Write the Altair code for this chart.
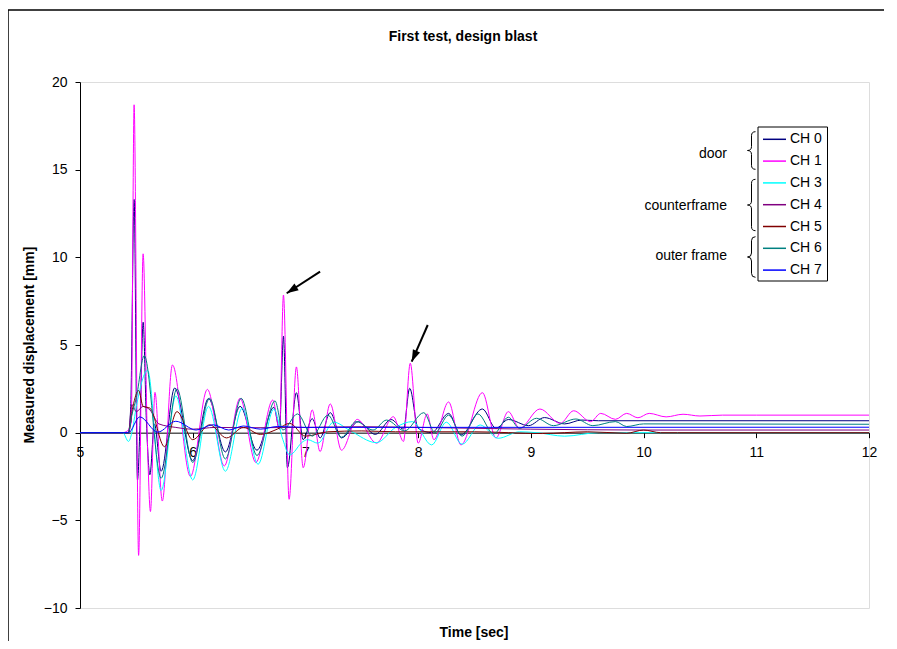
import altair as alt
import pandas as pd

# ---------------- data ----------------
names = ["CH 0", "CH 1", "CH 3", "CH 4", "CH 5", "CH 6", "CH 7"]
colors = ["#000080", "#FF00FF", "#00FFFF", "#800080", "#800000", "#008080", "#0000FF"]

ch0_t = [5.0, 5.43, 5.45, 5.48, 5.51, 5.535, 5.56, 5.59, 5.62, 5.66, 5.72, 5.84, 6.0, 6.14, 6.29, 6.42,
         6.57, 6.72, 6.77, 6.805, 6.84, 6.92, 6.98, 7.06, 7.13, 7.22, 7.32, 7.47, 7.62, 7.76, 7.87, 7.925,
         8.0, 8.12, 8.27, 8.38, 8.57, 8.69, 8.8, 8.98, 9.12, 9.3, 9.45, 9.6, 12.0]
ch0_v = [0, 0, 1.5, 13.3, -2.7, 1.0, 6.3, 0.5, -2.4, 0.5, -2.2, 2.55, -1.6, 1.95, -1.1, 1.5,
         -1.0, 1.45, 0.2, 5.5, -2.0, 2.28, -0.4, 0.8, -0.3, 1.14, -0.3, 0.63, -0.1, 0.75, 0.2, 2.53,
         0.25, 0.0, 1.1, -0.13, 1.35, 0.25, 0.75, 0.4, 0.86, 0.5, 0.72, 0.68, 0.68]

ch1_t = [5.0, 5.38, 5.42, 5.455, 5.48, 5.52, 5.56, 5.6, 5.625, 5.665, 5.73, 5.82, 5.98, 6.13, 6.28,
         6.42, 6.56, 6.71, 6.77, 6.805, 6.855, 6.92, 6.98, 7.06, 7.13, 7.22, 7.32, 7.46, 7.63, 7.78,
         7.87, 7.93, 8.0, 8.08, 8.14, 8.27, 8.38, 8.57, 8.69, 8.80, 8.90, 9.08, 9.26, 9.38, 9.53, 9.62,
         9.75, 9.85, 9.95, 10.05, 10.2, 10.35, 10.5, 10.7, 11.0, 12.0]
ch1_v = [0, 0, 0.1, 0.6, 18.7, -7.0, 10.2, -1.0, -4.5, 2.3, -3.9, 3.86, -2.5, 2.47, -1.9,
         1.96, -1.7, 1.86, 0.2, 7.85, -3.8, 3.75, -2.0, 1.3, -1.08, 1.64, -1.0, 0.76, -0.6, 0.91,
         -0.5, 3.96, -0.6, 1.07, -0.4, 1.75, -0.7, 2.28, -0.3, 1.2, 0.25, 1.35, 0.53, 1.25, 0.63, 1.1,
         0.76, 1.1, 0.85, 1.1, 0.9, 1.05, 0.95, 1.0, 1.0, 1.0]

ch3_t = [5.0, 5.38, 5.43, 5.46, 5.5, 5.6, 5.72, 5.85, 6.0, 6.14, 6.29, 6.44, 6.58, 6.72, 6.8, 6.86,
         6.98, 7.02, 7.11, 7.25, 7.4, 7.63, 7.8, 7.95, 8.12, 8.25, 8.39, 8.55, 8.71, 8.9, 9.05, 9.3,
         9.6, 12.0]
ch3_v = [0, 0, -0.5, 0.0, 1.5, 3.55, -3.3, 2.1, -2.7, 1.5, -2.2, 1.4, -1.8, 1.35, -0.4, -1.27,
         -0.5, -0.4, -0.6, 0.6, 0.1, -0.57, 0.3, 0.63, -0.7, 0.6, -0.66, 0.44, -0.32, 0.05, 0.0, -0.2,
         0.0, 0.0]

ch4_t = [5.0, 5.43, 5.46, 5.5, 5.56, 5.62, 5.7, 5.85, 6.0, 6.2, 6.5, 7.0, 7.5, 8.0, 9.0, 10.0, 12.0]
ch4_v = [0, 0, 1.6, 1.2, 1.5, 1.3, 0.5, 0.3, 0.2, 0.3, 0.28, 0.3, 0.34, 0.3, 0.2, 0.15, 0.15]

ch5_t = [5.0, 5.43, 5.47, 5.52, 5.56, 5.62, 5.75, 5.86, 6.0, 6.15, 6.3, 6.45, 6.6, 6.75, 6.86, 7.0,
         7.2, 7.5, 7.8, 8.5, 9.1, 9.5, 9.85, 10.0, 10.15, 10.3, 12.0]
ch5_v = [0, 0, 1.5, 2.4, 1.5, 1.4, -0.8, 1.2, -0.4, 0.45, -0.3, 0.3, -0.1, 0.2, 0.53, -0.2,
         0.05, 0.1, 0.05, 0.05, -0.05, 0.05, -0.03, 0.15, 0.0, 0.0, 0.0]

ch6_t = [5.0, 5.43, 5.46, 5.5, 5.57, 5.72, 5.86, 6.0, 6.15, 6.29, 6.43, 6.57, 6.73, 6.8, 6.93,
         7.06, 7.2, 7.32, 7.45, 7.6, 7.72, 7.88, 8.05, 8.15, 8.27, 8.39, 8.53, 8.67, 8.8, 8.9, 9.05,
         9.2, 9.4, 9.55, 9.75, 9.85, 10.0, 12.0]
ch6_v = [0, 0, 1.0, 2.0, 4.4, -2.6, 2.5, -1.7, 1.96, -1.5, 1.96, -1.3, 1.81, 0.15, 1.07,
         -0.2, 1.0, -0.26, 0.63, 0.15, 0.72, 0.1, 1.14, 0.0, 1.0, -0.2, 1.07, -0.07, 0.88, 0.25, 0.82,
         0.4, 0.78, 0.4, 0.63, 0.35, 0.5, 0.48]

ch7_t = [5.0, 5.43, 5.53, 5.69, 5.85, 6.03, 6.18, 6.32, 6.45, 6.6, 6.75, 7.0, 12.0]
ch7_v = [0, 0, 0.9, 0.03, 0.65, 0.15, 0.45, 0.15, 0.38, 0.2, 0.35, 0.3, 0.31]

# arrows (annotation, data coordinates)
arrow_tail_t = [7.13, 8.085]
arrow_tail_v = [9.18, 6.14]
arrow_head_t = [6.834, 7.943]
arrow_head_v = [7.95, 4.05]
arrow_angle = [237, 204]

group_labels = ["door", "counterframe", "outer frame"]
x_ticks = [5, 6, 7, 8, 9, 10, 11, 12]
y_ticks = [-10, -5, 0, 5, 10, 15, 20]

# ---------------- build tables ----------------
series_data = [(names[0], ch0_t, ch0_v), (names[1], ch1_t, ch1_v), (names[2], ch3_t, ch3_v),
               (names[3], ch4_t, ch4_v), (names[4], ch5_t, ch5_v), (names[5], ch6_t, ch6_v),
               (names[6], ch7_t, ch7_v)]
rows = []
for i, (nm, ts, vs) in enumerate(series_data):
    for t, v in zip(ts, vs):
        rows.append({"series": nm, "order": i, "t": t, "v": v})
df = pd.DataFrame(rows)

arrows = pd.DataFrame({"t": arrow_tail_t, "v": arrow_tail_v, "t2": arrow_head_t,
                       "v2": arrow_head_v, "angle": arrow_angle})

W, H = 789, 526
FONT = "Liberation Sans"
xs = alt.Scale(domain=[5, 12], nice=False, zero=False)
ys = alt.Scale(domain=[-10, 20], nice=False, zero=False)
zero_offset = -(H - H * 20 / 30)

lines = alt.Chart(df).mark_line(strokeWidth=1, interpolate="monotone", clip=True).encode(
    x=alt.X("t:Q", scale=xs,
            axis=alt.Axis(values=x_ticks, format="d", offset=zero_offset, title=None,
                          grid=False, domainColor="black", tickColor="black", tickSize=5,
                          labelFont=FONT, labelFontSize=14, labelColor="black", labelPadding=8,
                          labelFlush=False)),
    y=alt.Y("v:Q", scale=ys,
            axis=alt.Axis(values=y_ticks, format="d", title=None, grid=False,
                          domainColor="black", tickColor="black", tickSize=5,
                          labelFont=FONT, labelFontSize=14, labelColor="black", labelPadding=8)),
    color=alt.Color("series:N", scale=alt.Scale(domain=names, range=colors), legend=None),
    order=alt.Order("order:Q"),
)

arrow_lines = alt.Chart(arrows).mark_rule(color="black", strokeWidth=2).encode(
    x="t:Q", y="v:Q", x2="t2:Q", y2="v2:Q")

head_path = "M0,0 L0.6,1.8 L-0.6,1.8 Z"
arrow_heads = alt.Chart(arrows).mark_point(shape=head_path, filled=True, color="black",
                                            size=170, opacity=1).encode(
    x="t2:Q", y="v2:Q", angle=alt.Angle("angle:Q", scale=None))

one = pd.DataFrame({"a": [0]})

# ---- legend (manual, with braces) ----
leg_df = pd.DataFrame({"series": names, "ly": [57.3 + 21.8 * i for i in range(7)]})
leg_box = alt.Chart(one).mark_rect(fill="white", stroke="black", strokeWidth=1).encode(
    x=alt.value(678), x2=alt.value(747.5), y=alt.value(45), y2=alt.value(199))
leg_lines = alt.Chart(leg_df).mark_rule(strokeWidth=1.5).encode(
    x=alt.value(683), x2=alt.value(706), y=alt.Y("ly:Q", scale=None),
    color=alt.Color("series:N", scale=alt.Scale(domain=names, range=colors), legend=None))
leg_text = alt.Chart(leg_df).mark_text(align="left", baseline="middle", font=FONT,
                                        fontSize=14, color="black").encode(
    x=alt.value(710), y=alt.Y("ly:Q", scale=None), text="series:N")

grp_df = pd.DataFrame({"label": group_labels, "gy": [72.3, 124, 174]})
grp_text = alt.Chart(grp_df).mark_text(align="right", baseline="middle", font=FONT,
                                        fontSize=14, color="black").encode(
    x=alt.value(647), y=alt.Y("gy:Q", scale=None), text="label:N")


def brace(height):
    a = 8.0 / height
    c = 8.0 / height
    return (f"M{a:.3f},-1 Q0,-1 0,{-1 + c:.3f} L0,{-c:.3f} Q0,0 {-a:.3f},0 "
            f"Q0,0 0,{c:.3f} L0,{1 - c:.3f} Q0,1 {a:.3f},1")


braces = []
for cy, hh in [(68.5, 37.6), (123.0, 51.4), (175.0, 40.6)]:
    braces.append(alt.Chart(one).mark_point(shape=brace(hh), filled=False, color="black",
                                            strokeWidth=1, size=hh * hh, opacity=1).encode(
        x=alt.value(671.5), y=alt.value(cy)))

# ---- titles & frame ----
title = alt.Chart(one).mark_text(text="First test, design blast", font=FONT, fontSize=14,
                                 fontWeight="bold", color="black", baseline="middle").encode(
    x=alt.value(383), y=alt.value(-45))
ytitle = alt.Chart(one).mark_text(text="Measured displacement [mm]", font=FONT, fontSize=14,
                                  fontWeight="bold", color="black", angle=270,
                                  baseline="middle").encode(x=alt.value(-50), y=alt.value(263))
xtitle = alt.Chart(one).mark_text(text="Time [sec]", font=FONT, fontSize=14, fontWeight="bold",
                                  color="black", baseline="middle").encode(
    x=alt.value(394), y=alt.value(551))
frame_top = alt.Chart(one).mark_rule(color="black", strokeWidth=1.5).encode(
    x=alt.value(-72), x2=alt.value(804), y=alt.value(-72))
frame_left = alt.Chart(one).mark_rule(color="black", strokeWidth=1.5).encode(
    x=alt.value(-72), y=alt.value(-72), y2=alt.value(600))

chart = alt.layer(frame_top, frame_left, lines, arrow_lines, arrow_heads, leg_box, leg_lines,
                  leg_text, grp_text, *braces, title, ytitle, xtitle).properties(
    width=W, height=H,
    autosize=alt.AutoSizeParams(type="none"),
    padding={"left": 72, "top": 74, "right": 16, "bottom": 33},
).configure_view(stroke="#a8a8a8", strokeWidth=1.5).configure(background="white")

chart.save("out.html", embed_options={"renderer": "svg", "actions": False})
